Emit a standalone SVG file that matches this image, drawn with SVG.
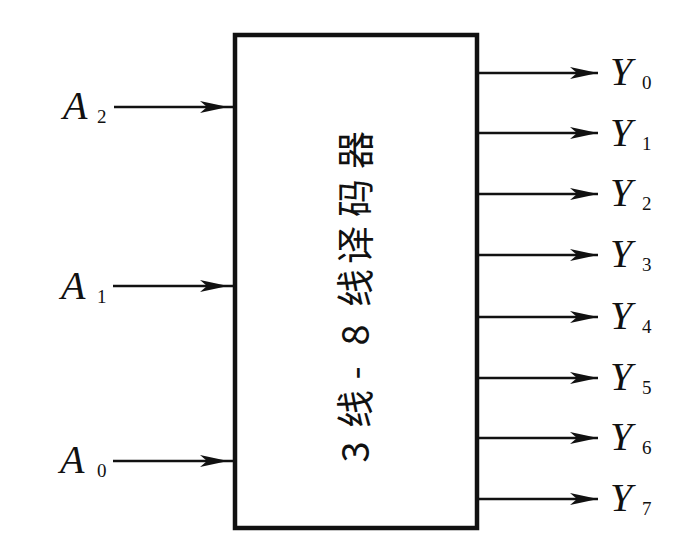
<svg xmlns="http://www.w3.org/2000/svg" width="698" height="560" viewBox="0 0 698 560">
<defs>
<style>
.w{stroke:#111;stroke-width:2.6;fill:none}
.box{stroke:#111;stroke-width:4.5;fill:#fff}
.v{font-family:"Liberation Serif","Times New Roman",serif;font-style:italic;font-size:40px;fill:#111}
.s{font-family:"Liberation Serif","Times New Roman",serif;font-size:19px;fill:#111}
.t{font-family:"Noto Sans CJK SC","Liberation Sans",sans-serif;font-size:38px;fill:#111}
</style>
<marker id="ah" markerUnits="userSpaceOnUse" markerWidth="40" markerHeight="20" viewBox="-30 -10 32 20" refX="0" refY="0" orient="auto">
<path d="M0,0 L-28,-6 L-21,0 L-28,6 Z" fill="#111"/>
</marker>
</defs>
<rect width="698" height="560" fill="#fff"/>
<g id="decoder">
<rect class="box" x="235" y="35" width="242" height="493"/>
<g class="t" transform="translate(352,298) rotate(-90)" text-anchor="middle" dominant-baseline="central">
<text x="-154" y="0">3</text>
<text x="-111" y="0">线</text>
<text x="-75" y="0">-</text>
<text x="-37" y="0">8</text>
<text x="10" y="0">线</text>
<text x="53" y="0">译</text>
<text x="100" y="0">码</text>
<text x="148" y="0">器</text>
</g>
</g>
<g id="connectors">
<path class="w" d="M114,107 L228,107 L235,107" marker-mid="url(#ah)"/>
<path class="w" d="M113,286 L228,286 L235,286" marker-mid="url(#ah)"/>
<path class="w" d="M113,461 L228,461 L235,461" marker-mid="url(#ah)"/>
<path class="w" d="M477,73 L598,73" marker-end="url(#ah)"/>
<path class="w" d="M477,133 L598,133" marker-end="url(#ah)"/>
<path class="w" d="M477,194 L598,194" marker-end="url(#ah)"/>
<path class="w" d="M477,255 L598,255" marker-end="url(#ah)"/>
<path class="w" d="M477,317 L598,317" marker-end="url(#ah)"/>
<path class="w" d="M477,378 L598,378" marker-end="url(#ah)"/>
<path class="w" d="M477,438 L598,438" marker-end="url(#ah)"/>
<path class="w" d="M477,499 L598,499" marker-end="url(#ah)"/>
</g>
<g id="in-A2"><text class="v" x="63" y="119">A</text><text class="s" x="97" y="123">2</text></g>
<g id="in-A1"><text class="v" x="61" y="299">A</text><text class="s" x="97" y="303">1</text></g>
<g id="in-A0"><text class="v" x="60" y="473">A</text><text class="s" x="97" y="477">0</text></g>
<g id="out-Y0"><text class="v" x="610" y="85">Y</text><text class="s" x="642" y="89">0</text></g>
<g id="out-Y1"><text class="v" x="610" y="146">Y</text><text class="s" x="642" y="150">1</text></g>
<g id="out-Y2"><text class="v" x="610" y="206">Y</text><text class="s" x="642" y="210">2</text></g>
<g id="out-Y3"><text class="v" x="610" y="267">Y</text><text class="s" x="642" y="271">3</text></g>
<g id="out-Y4"><text class="v" x="610" y="329">Y</text><text class="s" x="642" y="333">4</text></g>
<g id="out-Y5"><text class="v" x="610" y="390">Y</text><text class="s" x="642" y="394">5</text></g>
<g id="out-Y6"><text class="v" x="610" y="450">Y</text><text class="s" x="642" y="454">6</text></g>
<g id="out-Y7"><text class="v" x="610" y="511">Y</text><text class="s" x="642" y="515">7</text></g>
</svg>
